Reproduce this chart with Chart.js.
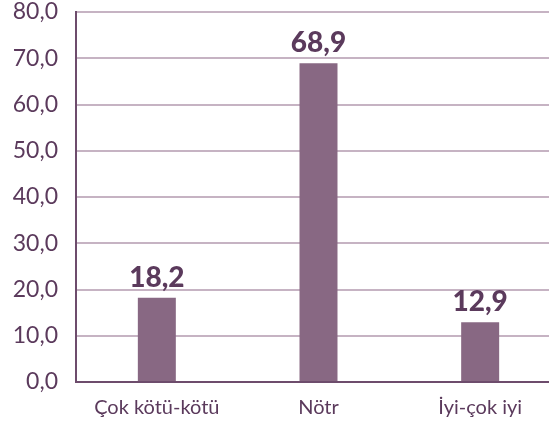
<!DOCTYPE html>
<html>
<head>
<meta charset="utf-8">
<script src="https://cdn.jsdelivr.net/npm/chart.js@4"></script>
<style>
  html, body { margin: 0; padding: 0; background: #fff; overflow: hidden; }
  canvas { display: block; }
</style>
</head>
<body>
<canvas id="grafico" width="561" height="423"></canvas>
<script>
// DATOS
const categorias = ['Çok kötü-kötü', 'Nötr', 'İyi-çok iyi'];
const valores = [18.2, 68.9, 12.9];
const ejeY = { min: 0, max: 80, paso: 10 };

const colorBarra = '#886883';
const colorTexto = '#5b3a5c';
const colorEje = '#6d4c6c';
const colorGrilla = '#c6b3c3';

function formato(v){
    return v.toFixed(1).replace('.', ',');
}

// etiquetas encima de las barras
const etiquetas = {
    id: 'etiquetas',
    afterDatasetsDraw(chart){
        const ctx = chart.ctx;
        const meta = chart.getDatasetMeta(0);
        ctx.save();
        ctx.font = '900 28px Lato';
        ctx.fillStyle = colorTexto;
        ctx.textAlign = 'center';
        ctx.textBaseline = 'bottom';
        meta.data.forEach((bar, i) => {
            ctx.fillText(formato(valores[i]), bar.x, bar.y - 6);
        });
        ctx.restore();
    }
};

new Chart(document.getElementById('grafico'), {
    type: 'bar',
    data: {
        labels: categorias,
        datasets: [{
            data: valores,
            backgroundColor: colorBarra,
            barPercentage: 0.235,
            categoryPercentage: 1
        }]
    },
    options: {
        responsive: false,
        animation: false,
        layout: { padding: { top: 12, right: 0, left: 0, bottom: 0 } },
        plugins: {
            legend: { display: false },
            tooltip: { enabled: false }
        },
        scales: {
            x: {
                grid: { display: false },
                border: { color: colorEje, width: 2 },
                ticks: {
                    color: colorTexto,
                    font: { family: 'Lato', size: 20 },
                    padding: 6
                },
                afterFit: s => { s.height = 41; s.paddingLeft = 0; s.paddingRight = 0; }
            },
            y: {
                min: ejeY.min,
                max: ejeY.max,
                ticks: {
                    stepSize: ejeY.paso,
                    color: colorTexto,
                    font: { family: 'Lato', size: 23 },
                    padding: 18,
                    callback: v => formato(v)
                },
                grid: { color: colorGrilla, lineWidth: 2, drawTicks: false },
                border: { color: colorEje, width: 2 },
                afterFit: s => { s.width = 76; s.paddingTop = 0; s.paddingBottom = 0; }
            }
        }
    },
    plugins: [etiquetas]
});
</script>
</body>
</html>
